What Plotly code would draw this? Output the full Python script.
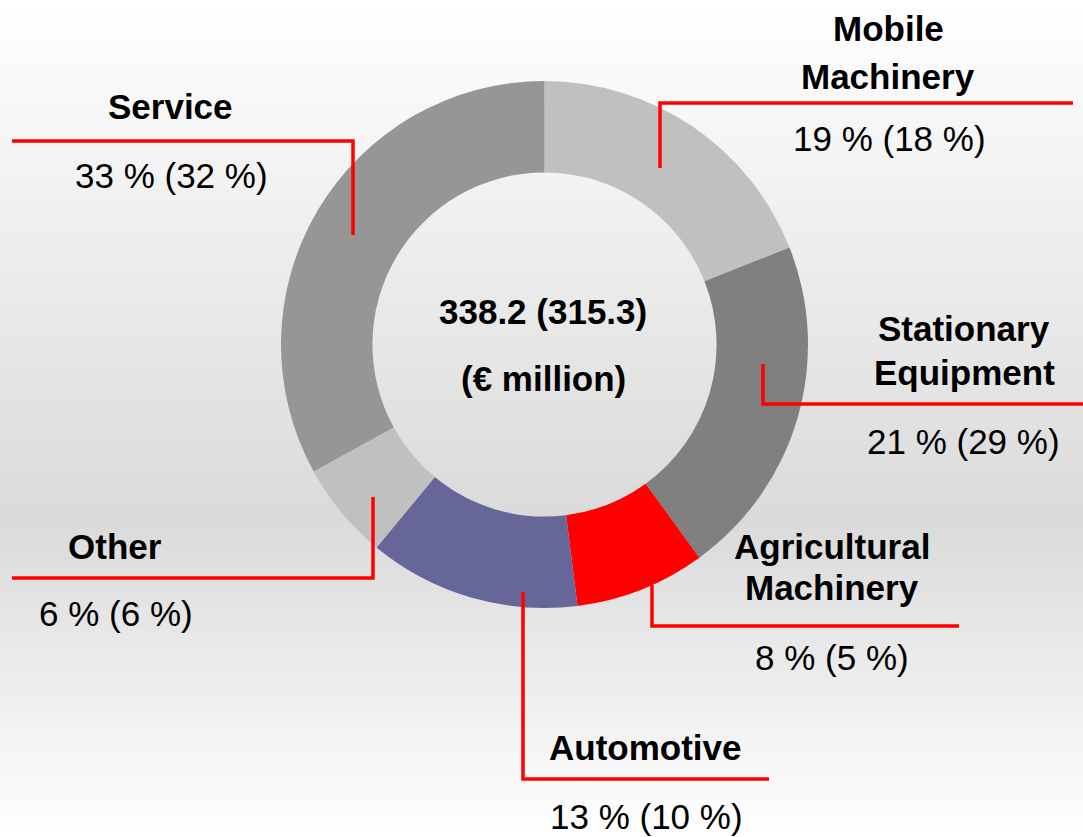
import plotly.graph_objects as go

# ---- data ----
segments = ["Mobile Machinery", "Stationary Equipment", "Agricultural Machinery",
            "Automotive", "Other", "Service"]
share_current = [19, 21, 8, 13, 6, 33]
share_previous = [18, 29, 5, 10, 6, 32]
total_current = 338.2
total_previous = 315.3
unit_label = "(€ million)"

# ---- style ----
colors = ["#c0c0c0", "#808080", "#ff0000", "#666699", "#c0c0c0", "#969696"]
W, H = 1083, 837
FONT = "Liberation Sans Narrow, Arial Narrow, Liberation Sans, Arial, sans-serif"
FS = 35
LINE_RED = "#ff0000"

def px(x):
    return x / W

def py(y):
    return 1 - y / H

# label layout (pixel positions): name lines, value line, leader polyline
label_layout = {
    "Mobile Machinery": dict(x=888, name_y=[29, 76], val=(889, 138),
                             path=[(660, 168), (660, 103), (1073, 103)]),
    "Stationary Equipment": dict(x=964, name_y=[328, 372], val=(963, 441),
                                 path=[(763, 364), (763, 404), (1083, 404)]),
    "Agricultural Machinery": dict(x=832, name_y=[546, 587], val=(832, 657),
                                   path=[(652, 585), (652, 626), (959, 626)]),
    "Automotive": dict(x=645, name_y=[747], val=(646, 816),
                       path=[(523, 592), (523, 779), (769, 779)]),
    "Other": dict(x=115, name_y=[546], val=(116, 613),
                  path=[(373, 497), (373, 578), (12, 578)]),
    "Service": dict(x=170, name_y=[106], val=(171, 175),
                    path=[(353, 235), (353, 141), (12, 141)]),
}

cx, cy, R = 544.5, 344.5, 263.5

fig = go.Figure(go.Pie(
    labels=segments,
    values=share_current,
    sort=False,
    direction="clockwise",
    rotation=0,
    hole=0.653,
    marker=dict(colors=colors, line=dict(width=0)),
    textinfo="none",
    hoverinfo="label+percent",
    showlegend=False,
    domain=dict(x=[px(cx - R), px(cx + R)], y=[py(cy + R), py(cy - R)]),
))

shapes = []
# background vertical gradient (white -> light gray -> white)
step = 4
for y0 in range(0, H, step):
    yc = y0 + step / 2
    if yc <= 520:
        g = 255 - 37 * yc / 520
    else:
        g = 218 + 37 * (yc - 520) / (H - 520)
    g = int(round(g))
    shapes.append(dict(type="rect", xref="paper", yref="paper",
                       x0=0, x1=1, y0=py(y0 + step + 0.5), y1=py(y0),
                       fillcolor=f"rgb({g},{g},{g})", line=dict(width=0),
                       layer="below"))

annotations = []
for name, cur, prev in zip(segments, share_current, share_previous):
    lay = label_layout[name]
    words = name.split(" ")
    for w, ny in zip(words, lay["name_y"]):
        annotations.append(dict(text=f"<b>{w}</b>", x=px(lay["x"]), y=py(ny),
                                xref="paper", yref="paper", showarrow=False,
                                xanchor="center", yanchor="middle",
                                font=dict(family=FONT, size=FS, color="#000000")))
    vx, vy = lay["val"]
    annotations.append(dict(text=f"{cur} % ({prev} %)", x=px(vx), y=py(vy),
                            xref="paper", yref="paper", showarrow=False,
                            xanchor="center", yanchor="middle",
                            font=dict(family=FONT, size=FS, color="#000000")))
    pts = lay["path"]
    d = "M " + " L ".join(f"{px(a)},{py(b)}" for a, b in pts)
    shapes.append(dict(type="path", xref="paper", yref="paper", path=d,
                       line=dict(color=LINE_RED, width=3.5), layer="above"))

annotations.append(dict(text=f"<b>{total_current} ({total_previous})</b>",
                        x=px(543), y=py(311), xref="paper", yref="paper",
                        showarrow=False, xanchor="center", yanchor="middle",
                        font=dict(family=FONT, size=FS, color="#000000")))
annotations.append(dict(text=f"<b>{unit_label}</b>",
                        x=px(543), y=py(378), xref="paper", yref="paper",
                        showarrow=False, xanchor="center", yanchor="middle",
                        font=dict(family=FONT, size=FS, color="#000000")))

fig.update_layout(
    width=W, height=H,
    margin=dict(l=0, r=0, t=0, b=0),
    paper_bgcolor="#ffffff",
    plot_bgcolor="#ffffff",
    shapes=shapes,
    annotations=annotations,
)

fig.write_html("out.html",
               config={"displayModeBar": False},
               post_script="document.body.style.margin='0';document.body.style.overflow='hidden';")
